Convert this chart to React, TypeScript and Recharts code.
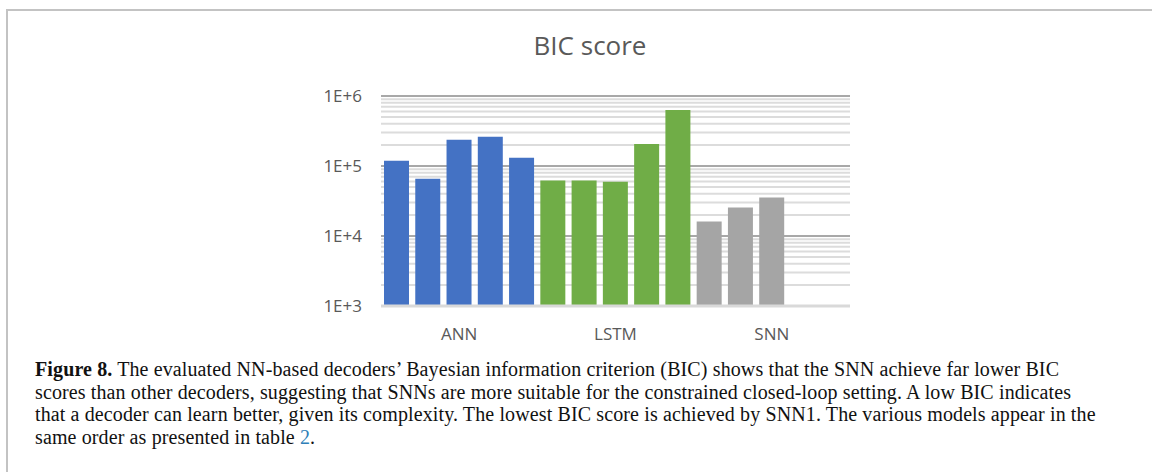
import React from 'react';
import { BarChart, Bar, Cell, XAxis, YAxis, CartesianGrid } from 'recharts';

const groups = ['ANN', 'LSTM', 'SNN'];
const groupColors = ['#4472c4', '#70ad47', '#a5a5a5'];
const annScores = [119000, 66000, 237000, 261000, 131000];
const lstmScores = [62000, 62000, 59700, 207000, 633000];
const snnScores = [16100, 25500, 35500];
const yTicks = [1e3, 1e4, 1e5, 1e6];
const yTickLabels = ['1E+3', '1E+4', '1E+5', '1E+6'];
const minorTicks = [2, 3, 4, 5, 6, 7, 8, 9].flatMap((m) => [m * 1e3, m * 1e4, m * 1e5]);
const slotsPerGroup = 5;

const groupScores = [annScores, lstmScores, snnScores];

const data = groups.flatMap((g, gi) =>
  Array.from({ length: slotsPerGroup }, (_, i) => ({
    slot: `${g} ${i + 1}`,
    group: g,
    color: groupColors[gi],
    bic: groupScores[gi][i] ?? null,
  }))
);

const middleTicks = groups.map((g) => `${g} ${Math.ceil(slotsPerGroup / 2)}`);

const captionLines = [
  'The evaluated NN-based decoders\u2019 Bayesian information criterion (BIC) shows that the SNN achieve far lower BIC',
  'scores than other decoders, suggesting that SNNs are more suitable for the constrained closed-loop setting. A low BIC indicates',
  'that a decoder can learn better, given its complexity. The lowest BIC score is achieved by SNN1. The various models appear in the',
];

export default function App() {
  const font = '"Open Sans", sans-serif';
  return (
    <div
      style={{
        position: 'absolute',
        left: 0,
        top: 0,
        width: 1152,
        height: 472,
        background: '#fff',
        overflow: 'hidden',
      }}
    >
      <div
        style={{
          position: 'absolute',
          left: 6,
          top: 9,
          width: 1200,
          height: 520,
          border: '2px solid #c3c3c3',
          boxSizing: 'border-box',
        }}
      />
      <div
        style={{
          position: 'absolute',
          left: 0,
          top: 27,
          width: 1180,
          textAlign: 'center',
          fontFamily: font,
          fontSize: 26,
          color: '#595959',
        }}
      >
        BIC score
      </div>
      <div style={{ position: 'absolute', left: 0, top: 0 }}>
        <BarChart
          width={1152}
          height={350}
          data={data}
          margin={{ top: 96, right: 302, left: 0, bottom: 14 }}
          barSize={25}
        >
          <CartesianGrid vertical={false} yAxisId="minor" stroke="#dcdcdc" strokeWidth={2} />
          <CartesianGrid vertical={false} stroke="#a8a8a8" strokeWidth={2} />
          <XAxis
            dataKey="slot"
            ticks={middleTicks}
            interval={0}
            tickFormatter={(v: string) => v.split(' ')[0]}
            tickLine={false}
            tickSize={0}
            tickMargin={22}
            axisLine={{ stroke: '#d9d9d9', strokeWidth: 3 }}
            height={30}
            tick={{ fill: '#595959', fontSize: 17, fontFamily: font }}
          />
          <YAxis
            scale="log"
            domain={[1e3, 1e6]}
            ticks={yTicks}
            allowDataOverflow
            tickFormatter={(v: number) => yTickLabels[yTicks.indexOf(v)] ?? ''}
            tickLine={false}
            axisLine={false}
            tickSize={0}
            tickMargin={19}
            width={381}
            tick={{ fill: '#595959', fontSize: 17, fontFamily: font }}
          />
          <YAxis
            yAxisId="minor"
            hide
            scale="log"
            domain={[1e3, 1e6]}
            ticks={minorTicks}
            interval={0}
            allowDataOverflow
          />
          <Bar dataKey="bic" isAnimationActive={false}>
            {data.map((d) => (
              <Cell key={d.slot} fill={d.color} />
            ))}
          </Bar>
        </BarChart>
      </div>
      <div
        style={{
          position: 'absolute',
          left: 35,
          top: 358,
          fontFamily: '"Liberation Serif", serif',
          fontSize: 20,
          letterSpacing: 0.12,
          lineHeight: '22.5px',
          color: '#111',
          whiteSpace: 'nowrap',
        }}
      >
        <div>
          <b>Figure 8.</b> {captionLines[0]}
        </div>
        <div>{captionLines[1]}</div>
        <div>{captionLines[2]}</div>
        <div>
          same order as presented in table <span style={{ color: '#2f7fb8' }}>2</span>.
        </div>
      </div>
    </div>
  );
}
